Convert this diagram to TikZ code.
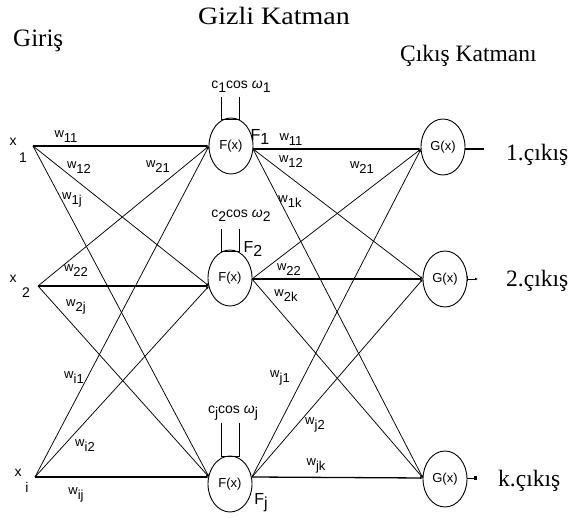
\documentclass[tikz,border=0pt]{standalone}
\usepackage{fontspec}
\setmainfont{Liberation Serif}
\newfontfamily\arialf{Liberation Sans}
\usetikzlibrary{shapes.geometric,arrows.meta}
\newcommand\wsub[2]{#1\raisebox{-5pt}{#2}}
\newcommand\bsub[1]{\raisebox{-4pt}{#1}}
\begin{document}
\begin{tikzpicture}[x=1pt,y=-1pt,
  neuron/.style={draw,ellipse,minimum width=44pt,minimum height=56pt,inner sep=0pt,line width=0.9pt,font=\arialf\fontsize{13}{13}\selectfont},
  conn/.style={line width=0.75pt,-{Latex[length=3pt,width=2.5pt]}},
  hconn/.style={conn,line width=1.3pt},
  wlab/.style={font=\arialf\fontsize{13}{13}\selectfont,inner sep=0pt},
  xlab/.style={font=\arialf\fontsize{14}{14}\selectfont,inner sep=0pt},
  flab/.style={font=\arialf\fontsize{16}{16}\selectfont,inner sep=0pt},
  blab/.style={font=\arialf\fontsize{14}{14}\selectfont,inner sep=0pt},
  ttl/.style={font=\fontsize{25}{25}\selectfont,inner sep=0pt,anchor=base west},
  outl/.style={font=\fontsize{23.5}{24}\selectfont,inner sep=0pt,anchor=base west},
  bias/.style={line width=0.9pt}]
\useasboundingbox (0,0) rectangle (571,518);
% titles
\node[ttl] (tin) at (13,47) {Giriş};
\node[ttl] (thid) at (198,25) {\scalebox{1.12}[1]{Gizli Katman}};
\node[outl] (tout) at (400,62) {Çıkış Katmanı};
% neurons
\node[neuron] (F1) at (231,146) {F(x)};
\node[neuron] (F2) at (230,278) {F(x)};
\node[neuron] (Fj) at (230,484) {F(x)};
\node[neuron] (G1) at (443,147) {G(x)};
\node[neuron] (G2) at (445,279) {G(x)};
\node[neuron] (Gk) at (445,479) {G(x)};
% input points
\coordinate (x1) at (33,146);
\coordinate (x2) at (38,286);
\coordinate (xi) at (35,477);
% anchor points on neurons
\coordinate (F1in) at (209,146);
\coordinate (F2in) at (209,286);
\coordinate (Fjin) at (209,477);
\coordinate (F1out) at (253,149);
\coordinate (F2out) at (252,279);
\coordinate (Fjout) at (252,477);
\coordinate (G1in) at (421,149);
\coordinate (G2in) at (423,279);
\coordinate (Gkin) at (423,478);
% input labels
\node[xlab] (lx1) at (13,142) {x};
\node[xlab] (lx1s) at (23,158) {1};
\node[xlab] (lx2) at (13,279) {x};
\node[xlab] (lx2s) at (26,293) {2};
\node[xlab] (lxi) at (18,473) {x};
\node[xlab] (lxis) at (27,487) {i};
% input -> hidden
\draw[hconn] (x1) -- (F1in);
\draw[conn] (x1) -- (F2in);
\draw[conn] (x1) -- (Fjin);
\draw[conn] (x2) -- (F1in);
\draw[hconn] (x2) -- (F2in);
\draw[conn] (x2) -- (Fjin);
\draw[conn] (xi) -- (F1in);
\draw[conn] (xi) -- (F2in);
\draw[hconn] (xi) -- (Fjin);
% hidden -> output
\draw[hconn] (F1out) -- (G1in);
\draw[conn] (F1out) -- (G2in);
\draw[conn] (F1out) -- (Gkin);
\draw[conn] (F2out) -- (G1in);
\draw[hconn] (F2out) -- (G2in);
\draw[conn] (F2out) -- (Gkin);
\draw[conn] (Fjout) -- (G1in);
\draw[conn] (Fjout) -- (G2in);
\draw[hconn] (Fjout) -- (Gkin);
% weight labels left
\node[wlab] (w11a) at (66,137) {\wsub{w}{11}};
\node[wlab] (w12a) at (79,168) {\wsub{w}{12}};
\node[wlab] (w21a) at (158,167) {\wsub{w}{21}};
\node[wlab] (w1ja) at (72,200) {\wsub{w}{1j}};
\node[wlab] (w22a) at (76,271) {\wsub{w}{22}};
\node[wlab] (w2ja) at (76,307) {\wsub{w}{2j}};
\node[wlab] (wi1a) at (74,378) {\wsub{w}{i1}};
\node[wlab] (wi2a) at (85,446) {\wsub{w}{i2}};
\node[wlab] (wija) at (76,495) {\wsub{w}{ij}};
% weight labels right
\node[wlab] (w11b) at (291,140) {\wsub{w}{11}};
\node[wlab] (w12b) at (291,162) {\wsub{w}{12}};
\node[wlab] (w21b) at (362,168) {\wsub{w}{21}};
\node[wlab] (w1kb) at (290,202) {\wsub{w}{1k}};
\node[wlab] (w22b) at (289,270) {\wsub{w}{22}};
\node[wlab] (w2kb) at (286,296) {\wsub{w}{2k}};
\node[wlab] (wj1b) at (280,378) {\wsub{w}{j1}};
\node[wlab] (wj2b) at (315,425) {\wsub{w}{j2}};
\node[wlab] (wjkb) at (316,466) {\wsub{w}{jk}};
% bias inputs
\draw[bias] (221,97) -- (221,119) -- (239,119) -- (239,97);
\draw[bias] (221,229) -- (221,251) -- (239,251) -- (239,229);
\draw[bias] (221,423) -- (221,456) -- (239,456) -- (239,423);
\node[blab] (b1) at (241,87) {c\bsub{1}cos {\itshape ω}\bsub{1}};
\node[blab] (b2) at (241,216) {c\bsub{2}cos {\itshape ω}\bsub{2}};
\node[blab] (bj) at (233,413) {c\bsub{j}cos {\itshape ω}\bsub{j}};
% F labels
\node[flab] (lF1) at (260,137) {F\bsub{1}};
\node[flab] (lF2) at (253,249) {F\bsub{2}};
\node[flab] (lFj) at (261,503) {F\bsub{j}};
% outputs
\coordinate (o1) at (484,149);
\coordinate (o2) at (478,279);
\coordinate (ok) at (477,478);
\draw[line width=1.1pt] (G1.east |- o1) -- (o1);
\draw[line width=0.8pt,{Bar[width=5pt]}-{Latex[length=3pt,width=3pt]}] (G2.east |- o2) -- (o2);
\draw[line width=0.8pt,-{Square[length=3pt,width=3pt]}] (Gk.east |- ok) -- (ok);
\node[outl] (t1) at (506,161) {1.çıkış};
\node[outl] (t2) at (506,287) {2.çıkış};
\node[outl] (tk) at (498,487) {k.çıkış};
\end{tikzpicture}
\end{document}
